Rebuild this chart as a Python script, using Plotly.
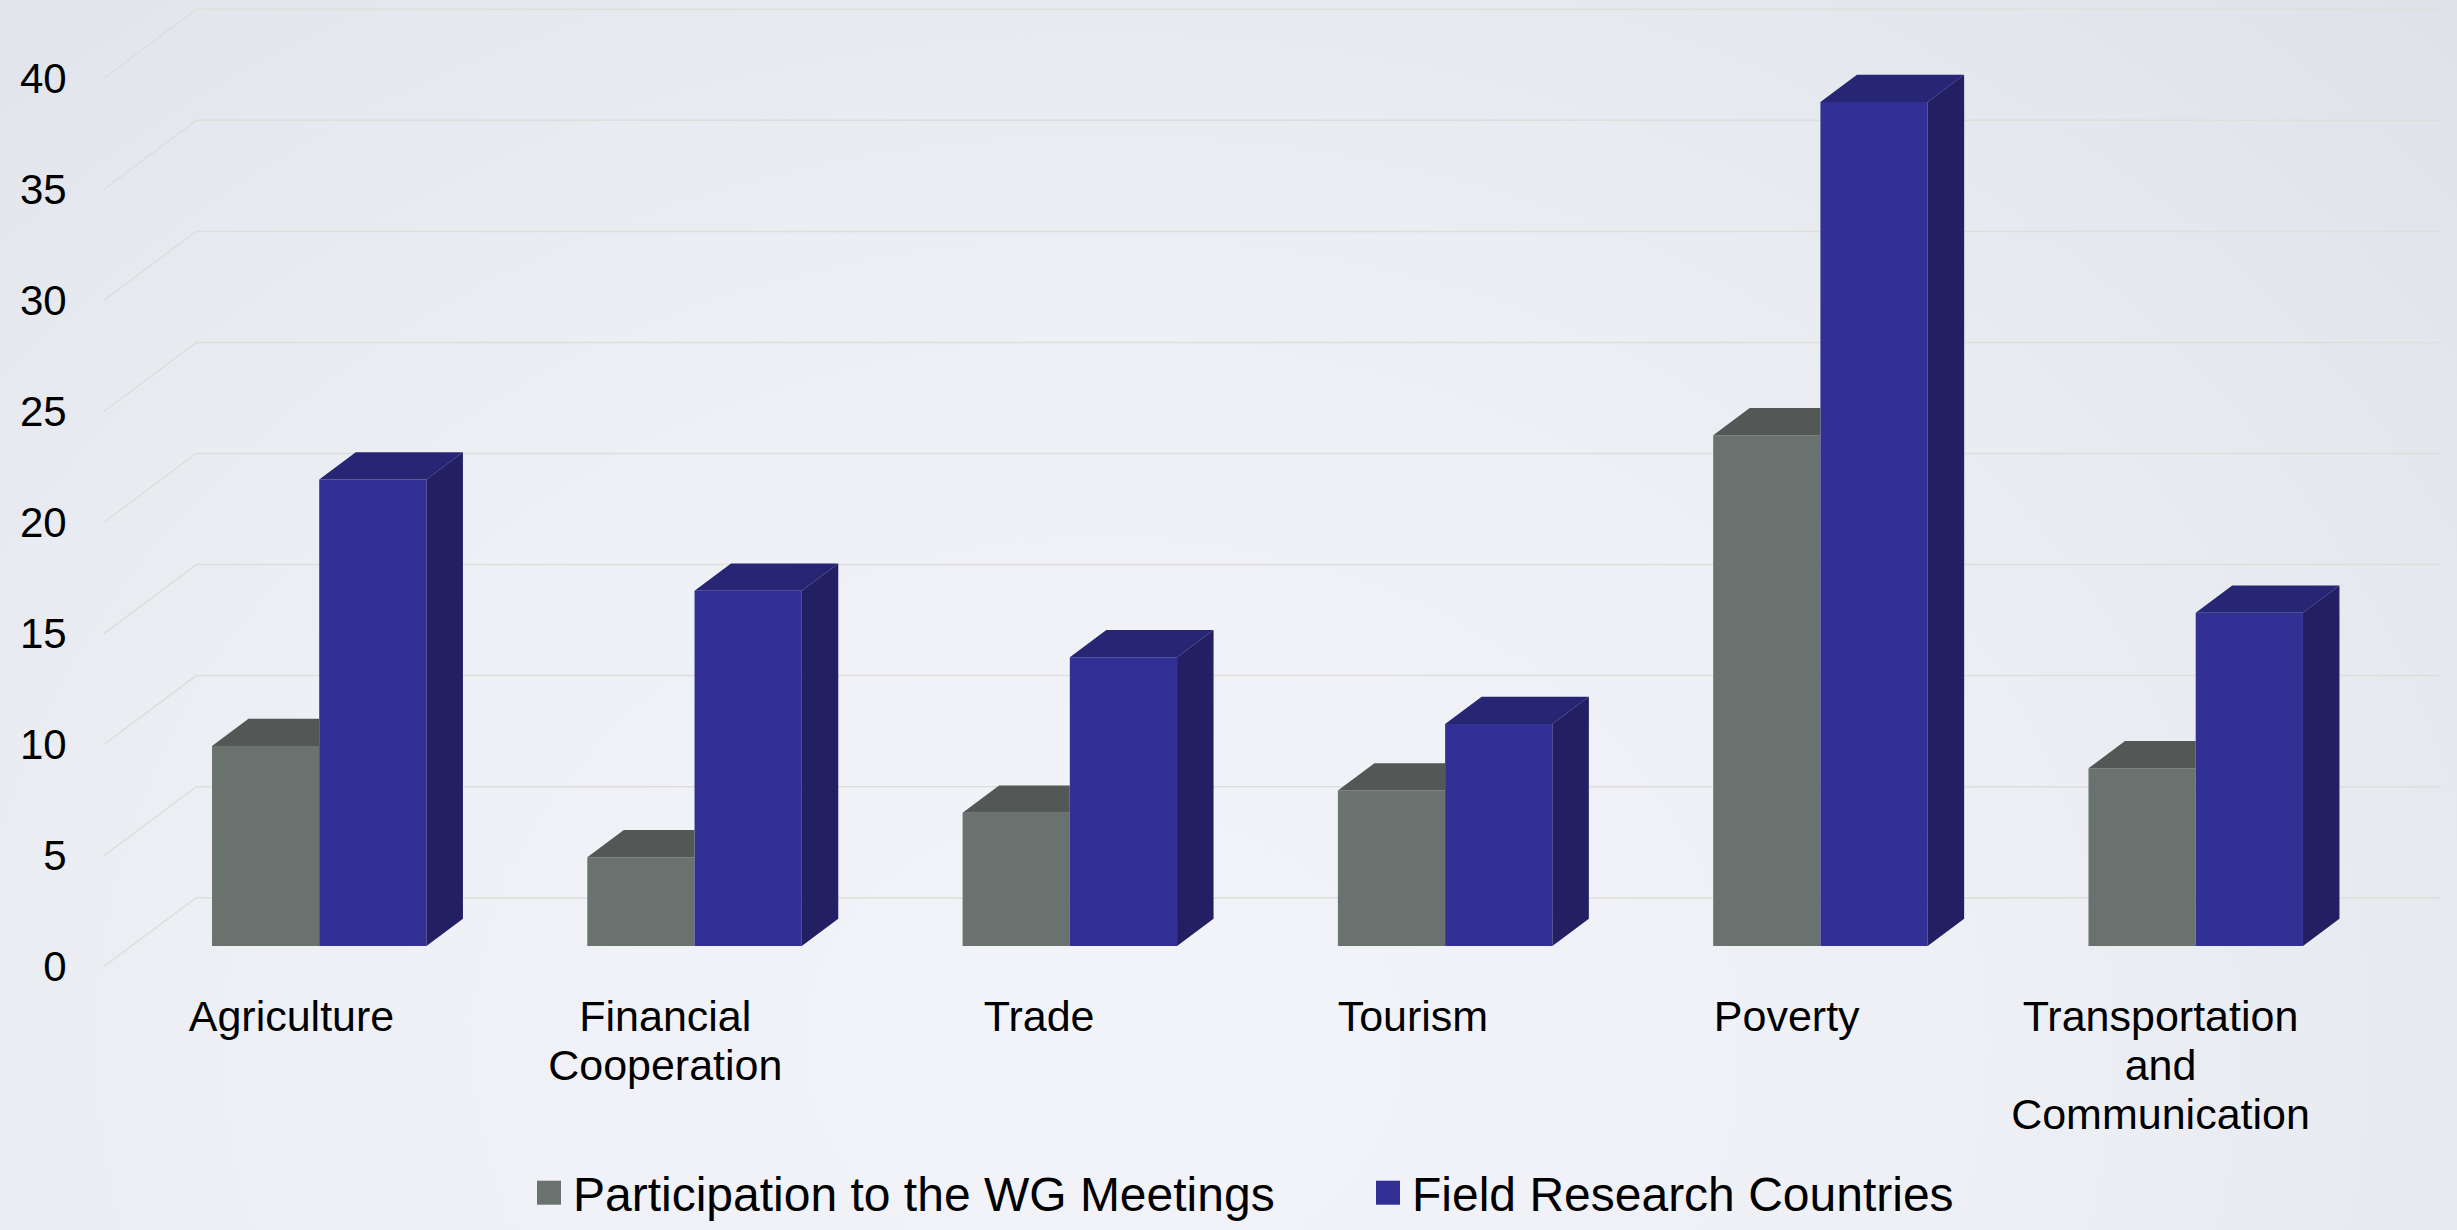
import base64
import plotly.graph_objects as go

categories = ["Agriculture", "Financial<br>Cooperation", "Trade", "Tourism", "Poverty",
              "Transportation<br>and<br>Communication"]
participation = [9, 4, 6, 7, 23, 8]
field_research = [21, 16, 13, 10, 38, 15]
y_ticks = [0, 5, 10, 15, 20, 25, 30, 35, 40]
series_names = ["Participation to the WG Meetings", "Field Research Countries"]

W, H = 2457, 1230
PLOT_LEFT, PLOT_BOTTOM = 79, 975
CAT_PX, CAT0_PX = 375.3, 291.5      # px per category, px of the first category on the front plane
VAL_PX, ZERO_PX = 22.21, 966.7      # px per unit, px of zero on the front plane
LABEL_STEP = 373.8 / CAT_PX         # labels are spaced a little tighter than the bars

# depth of the chart floor, in axis units
DEPTH_X, DEPTH_Y = 92.4 / CAT_PX, 69.0 / VAL_PX
BAR_SHIFT = 0.30        # where the bars start, as a share of the floor depth
BAR_DEPTH = 0.395       # how deep the bars are, as a share of the floor depth
BAR_W = 1 / 3.5
SHIFT_X, SHIFT_Y = BAR_SHIFT * DEPTH_X, BAR_SHIFT * DEPTH_Y
BX, BY = BAR_DEPTH * DEPTH_X, BAR_DEPTH * DEPTH_Y
WALL_RIGHT = (2440.7 - CAT0_PX) / CAT_PX

GREY, GREY_TOP = "#6a726f", "#535856"
BLUE, BLUE_TOP, BLUE_SIDE = "#323094", "#272675", "#221f63"
GRID = "#dededa"
FONT = "Liberation Sans"

svg = f"""<svg xmlns='http://www.w3.org/2000/svg' width='{W}' height='{H}'>
<defs><radialGradient id='g' cx='0.45' cy='0.85' r='1'
gradientTransform='translate(.45 .85) scale(.75 1.2) translate(-.45 -.85)'>
<stop offset='0' stop-color='#f3f4f9'/><stop offset='0.45' stop-color='#eef0f5'/>
<stop offset='1' stop-color='#dfe3e9'/></radialGradient></defs>
<rect width='{W}' height='{H}' fill='url(#g)'/></svg>"""
bg = "data:image/svg+xml;base64," + base64.b64encode(svg.encode()).decode()

xs = [i + SHIFT_X for i in range(len(categories))]
fig = go.Figure()
fig.add_bar(x=xs, y=participation, base=SHIFT_Y, name=series_names[0], marker_color=GREY, marker_line_width=0)
fig.add_bar(x=xs, y=field_research, base=SHIFT_Y, name=series_names[1], marker_color=BLUE, marker_line_width=0)


def face(px, py, color):
    fig.add_scatter(x=px, y=py, mode="lines", fill="toself", fillcolor=color, line=dict(width=0),
                    showlegend=False, hoverinfo="skip")


for x, a, b in zip(xs, participation, field_research):
    ya, yb = a + SHIFT_Y, b + SHIFT_Y
    # grey roof: cut where the blue bar stands in front of it
    face([x - BAR_W, x - BAR_W + BX, x, x, x - BAR_W], [ya, ya + BY, ya + BY, ya, ya], GREY_TOP)
    # blue roof and side
    face([x, x + BX, x + BAR_W + BX, x + BAR_W, x], [yb, yb + BY, yb + BY, yb, yb], BLUE_TOP)
    face([x + BAR_W, x + BAR_W + BX, x + BAR_W + BX, x + BAR_W, x + BAR_W],
         [yb, yb + BY, SHIFT_Y + BY, SHIFT_Y, yb], BLUE_SIDE)

shapes = [dict(type="path", xref="x", yref="y", layer="below",
               path=f"M{-0.5},{v} L{-0.5 + DEPTH_X},{v + DEPTH_Y} L{WALL_RIGHT},{v + DEPTH_Y}",
               line=dict(color=GRID, width=1.5)) for v in y_ticks]

fig.update_layout(
    width=W, height=H, margin=dict(l=0, r=0, t=0, b=0, autoexpand=False),
    paper_bgcolor="#eceef3", plot_bgcolor="rgba(0,0,0,0)",
    barmode="group", bargap=1.5 / 3.5, bargroupgap=0,
    font=dict(family=FONT, color="black", size=41),
    shapes=shapes,
    images=[dict(source=bg, xref="paper", yref="paper", x=0, y=1, sizex=1, sizey=1,
                 sizing="stretch", layer="below", xanchor="left", yanchor="top")],
    legend=dict(orientation="h", x=527 / W, y=(H - 1155) / H, xanchor="left", yanchor="top",
                font=dict(family=FONT, size=48, color="black"), bgcolor="rgba(0,0,0,0)",
                itemwidth=36, entrywidth=788, entrywidthmode="pixels", traceorder="normal"),
    xaxis=dict(domain=[PLOT_LEFT / W, 1],
               range=[(PLOT_LEFT - CAT0_PX) / CAT_PX, (W - CAT0_PX) / CAT_PX],
               tickmode="array", tickvals=[i * LABEL_STEP for i in range(len(categories))], ticktext=categories,
               showgrid=False, zeroline=False, showline=False, ticks="outside", ticklen=3,
               tickcolor="rgba(0,0,0,0)", tickangle=0, tickfont=dict(family=FONT, size=43, color="black")),
    yaxis=dict(domain=[(H - PLOT_BOTTOM) / H, 1],
               range=[(ZERO_PX - PLOT_BOTTOM) / VAL_PX, ZERO_PX / VAL_PX],
               tickmode="array", tickvals=y_ticks, showgrid=False, zeroline=False, showline=False,
               ticks="outside", ticklen=3, tickcolor="rgba(0,0,0,0)",
               tickfont=dict(family=FONT, size=42, color="black")),
)

post = """
document.body.style.margin='0';document.body.style.overflow='hidden';
document.querySelectorAll('.xtick text').forEach(function(t){
  t.querySelectorAll('tspan.line').forEach(function(l,k){l.setAttribute('dy',(k*49)+'px');});
});
document.querySelectorAll('.legend .legendbar, .legend .legendpoints path').forEach(function(p){
  p.setAttribute('transform','translate(22,0) scale(2)');
});
"""
fig.write_html("out.html", post_script=post, config=dict(displayModeBar=False))
